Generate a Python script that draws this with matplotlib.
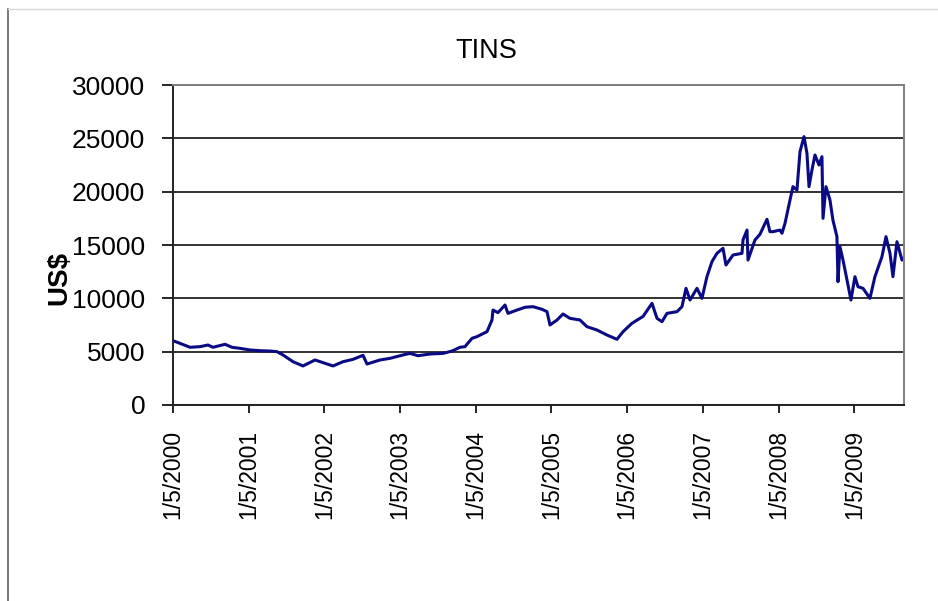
import numpy as np
import matplotlib
matplotlib.use('Agg')
import matplotlib.pyplot as plt
from matplotlib.lines import Line2D

plt.rcParams['font.family'] = ['Liberation Sans', 'DejaVu Sans']

# years elapsed since 1/5/2000 and tin price (US$)
years = [0.000, 0.092, 0.225, 0.357, 0.462, 0.528, 0.687, 0.779, 0.885, 1.017,
         1.149, 1.281, 1.374, 1.453, 1.585, 1.717, 1.876, 1.982, 2.114, 2.246,
         2.378, 2.510, 2.563, 2.734, 2.867, 3.038, 3.131, 3.236, 3.395, 3.567,
         3.686, 3.791, 3.857, 3.950, 4.016, 4.148, 4.214, 4.227, 4.293, 4.386,
         4.425, 4.544, 4.650, 4.756, 4.875, 4.941, 4.980, 5.073, 5.152, 5.244,
         5.376, 5.469, 5.601, 5.733, 5.865, 5.945, 6.063, 6.209, 6.328, 6.394,
         6.460, 6.526, 6.658, 6.724, 6.777, 6.830, 6.922, 6.988, 7.054, 7.120,
         7.186, 7.266, 7.305, 7.398, 7.517, 7.530, 7.583, 7.596, 7.688, 7.754,
         7.847, 7.886, 7.926, 8.018, 8.045, 8.085, 8.151, 8.190, 8.243, 8.283,
         8.336, 8.375, 8.402, 8.441, 8.481, 8.534, 8.573, 8.587, 8.626, 8.679,
         8.718, 8.771, 8.785, 8.811, 8.851, 8.904, 8.956, 9.009, 9.049, 9.115,
         9.207, 9.273, 9.366, 9.419, 9.472, 9.511, 9.564, 9.630, 9.657]
price = [6030, 5780, 5410, 5470, 5625, 5410, 5690, 5410, 5310, 5160,
         5090, 5060, 5000, 4690, 4060, 3660, 4220, 3970, 3660, 4060,
         4280, 4660, 3840, 4220, 4375, 4690, 4840, 4620, 4780, 4840,
         5060, 5410, 5470, 6250, 6410, 6875, 7970, 8900, 8660, 9375,
         8590, 8900, 9160, 9220, 8970, 8750, 7500, 7970, 8530, 8125,
         7970, 7340, 7030, 6560, 6160, 6870, 7660, 8300, 9530, 8125,
         7810, 8590, 8750, 9220, 10940, 9840, 10940, 10000, 12030, 13440,
         14220, 14690, 13125, 14060, 14220, 15470, 16400, 13590, 15470, 16000,
         17410, 16250, 16250, 16400, 16100, 17030, 19220, 20470, 20160, 23750,
         25160, 23590, 20470, 22030, 23440, 22500, 23280, 17500, 20470, 19220,
         17340, 15780, 11560, 14840, 13590, 11720, 9840, 12030, 11090, 10940,
         10000, 12030, 13910, 15780, 14220, 12030, 15310, 13590, 13800]

tick_years = list(range(10))
tick_labels = ['1/5/%d' % (2000 + k) for k in tick_years]
y_ticks = [0, 5000, 10000, 15000, 20000, 25000, 30000]

fig = plt.figure(figsize=(9.38, 6.01), dpi=100)
ax = fig.add_axes([173 / 938, 196 / 601, 731 / 938, 320 / 601])

ax.plot(years, price, color='#0a0a85', lw=2.2)

ax.set_xlim(0, 9.657)
ax.set_ylim(0, 30000)
ax.set_yticks(y_ticks)
ax.set_xticks(tick_years)
ax.set_xticklabels(tick_labels, rotation=90, fontsize=16.5)
ax.tick_params(axis='y', labelsize=19, length=8, width=1.2, pad=12)
ax.tick_params(axis='x', length=6, width=1.2, pad=12)
ax.yaxis.grid(True, color='#222222', lw=1.3)
ax.set_axisbelow(True)

for s in ['left', 'bottom']:
    ax.spines[s].set_color('#222222')
    ax.spines[s].set_linewidth(1.4)
for s in ['top', 'right']:
    ax.spines[s].set_color('#808080')
    ax.spines[s].set_linewidth(1.4)

fig.text(486 / 938, 1 - 51 / 601, 'TINS', fontsize=19.5,
         ha='center', va='center')
fig.text(59 / 938, 1 - 278 / 601, 'US$', fontsize=20, fontweight='bold',
         rotation=90, ha='center', va='center')

# outer frame of the original slide
fig.add_artist(Line2D([8 / 938, 8 / 938], [0, 592 / 601],
                      transform=fig.transFigure, color='#606060', lw=1.2))
fig.add_artist(Line2D([8 / 938, 1], [592 / 601, 592 / 601],
                      transform=fig.transFigure, color='#d8d8d8', lw=1))

fig.savefig('out.png', dpi=100)
